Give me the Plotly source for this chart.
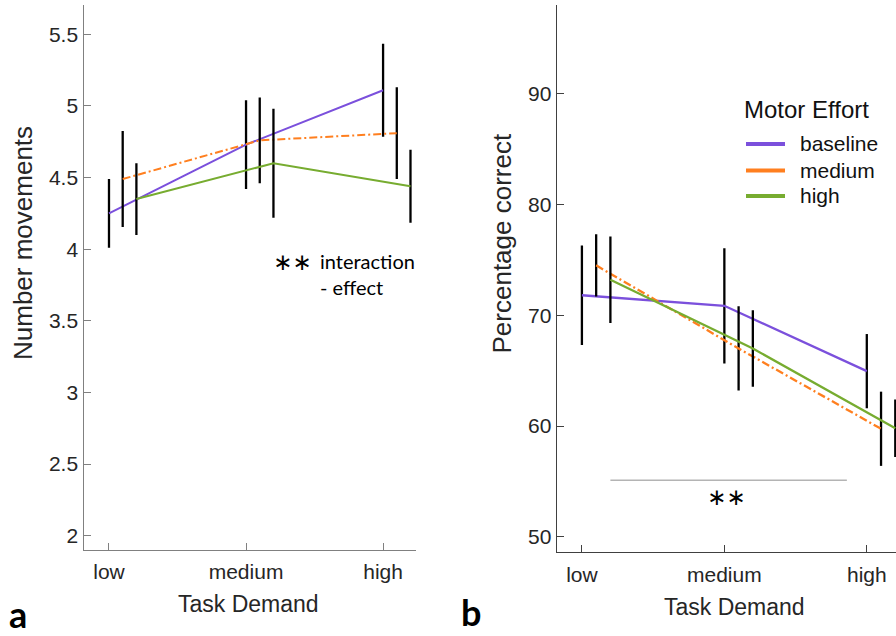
import plotly.graph_objects as go

# ---------------- data ----------------
task_levels = ["low", "medium", "high"]
effort_groups = ["baseline", "medium", "high"]

# panel a: number of movements (mean, error)
mov_baseline = [4.25, 4.73, 5.11]
mov_baseline_err = [0.24, 0.31, 0.325]
mov_medium = [4.49, 4.76, 4.81]
mov_medium_err = [0.335, 0.30, 0.32]
mov_high = [4.35, 4.60, 4.44]
mov_high_err = [0.25, 0.38, 0.255]

# panel b: percentage correct (mean, error)
pc_baseline = [71.8, 70.85, 64.95]
pc_baseline_err = [4.5, 5.2, 3.35]
pc_medium = [74.5, 67.0, 59.75]
pc_medium_err = [2.8, 3.8, 3.35]
pc_high = [73.2, 67.0, 59.8]
pc_high_err = [3.9, 3.45, 2.6]

# significance bar in panel b
sig_x = [1.2, 2.86]
sig_y = [55.1, 55.1]

y_ticks_a = [2, 2.5, 3, 3.5, 4, 4.5, 5, 5.5]
y_ticks_b = [50, 60, 70, 80, 90]

# ---------------- styles ----------------
colors = {"baseline": "#7B50DC", "medium": "#FF7F1F", "high": "#77AC30"}
dashes = {"baseline": "solid", "medium": "8px,3px,2px,3px", "high": "solid"}
offsets = {"baseline": 0.0, "medium": 0.1, "high": 0.2}
base_x = [1, 2, 3]
SANS = "Liberation Sans, Arial, sans-serif"
TICK_FONT = dict(family=SANS, size=21, color="#262626")
TXT = "#262626"

fig = go.Figure()

panel_a = {"baseline": (mov_baseline, mov_baseline_err),
           "medium": (mov_medium, mov_medium_err),
           "high": (mov_high, mov_high_err)}
panel_b = {"baseline": (pc_baseline, pc_baseline_err),
           "medium": (pc_medium, pc_medium_err),
           "high": (pc_high, pc_high_err)}

for axes, data in (("a", panel_a), ("b", panel_b)):
    xa, ya = ("x", "y") if axes == "a" else ("x2", "y2")
    lw = 2 if axes == "a" else 2.3
    for g in effort_groups:
        vals, errs = data[g]
        xs = [b + offsets[g] for b in base_x]
        # error bars
        fig.add_trace(go.Scatter(
            x=xs, y=vals, mode="markers", marker=dict(size=1, color="rgba(0,0,0,0)"),
            error_y=dict(type="data", array=errs, visible=True, color="black",
                         thickness=2.3, width=0),
            xaxis=xa, yaxis=ya, showlegend=False, hoverinfo="skip"))
        # lines
        fig.add_trace(go.Scatter(
            x=xs, y=vals, mode="lines",
            line=dict(color=colors[g], width=lw, dash=dashes[g]),
            xaxis=xa, yaxis=ya, showlegend=False, name=g))

# significance line
fig.add_trace(go.Scatter(x=sig_x, y=sig_y, mode="lines",
                         line=dict(color="#b4b4b4", width=1.5),
                         xaxis="x2", yaxis="y2", showlegend=False, hoverinfo="skip"))

W, H = 896, 636

def px(x):
    return x / W

def py(y):
    return 1 - y / H

common_x = dict(tickmode="array", tickvals=base_x, ticktext=task_levels,
                ticks="inside", ticklen=7, showgrid=False, zeroline=False,
                showline=True, linewidth=1.3, tickfont=TICK_FONT, ticklabelstandoff=3)
common_y = dict(ticks="inside", ticklen=7, showgrid=False, zeroline=False,
                showline=True, linewidth=1.3, tickfont=TICK_FONT)

fig.update_layout(
    width=W, height=H,
    margin=dict(l=0, r=0, t=0, b=0),
    paper_bgcolor="white", plot_bgcolor="white",
    showlegend=False,
    xaxis=dict(domain=[px(83.5), px(415.7)], range=[0.814, 3.238],
               linecolor="#808080", tickcolor="#808080", anchor="y", **common_x),
    yaxis=dict(domain=[py(550), py(5)], range=[1.9, 5.705], tickvals=y_ticks_a,
               ticktext=[f"{v:g}" for v in y_ticks_a],
               linecolor="#808080", tickcolor="#808080", anchor="x", **common_y),
    xaxis2=dict(domain=[px(556.7), 1.0], range=[0.823, 3.205],
                linecolor="#404040", tickcolor="#404040", anchor="y2", **common_x),
    yaxis2=dict(domain=[py(552.3), py(5)], range=[48.6, 98], tickvals=y_ticks_b,
                linecolor="#404040", tickcolor="#404040", anchor="x2", **common_y),
)

ann = []
shapes = []
# axis titles
ann.append(dict(text="Number movements", x=px(23), y=py(243), xref="paper", yref="paper",
                textangle=-90, showarrow=False, xanchor="center", yanchor="middle",
                font=dict(family=SANS, size=26, color=TXT)))
ann.append(dict(text="Percentage correct", x=px(502), y=py(243.5), xref="paper", yref="paper",
                textangle=-90, showarrow=False, xanchor="center", yanchor="middle",
                font=dict(family=SANS, size=26, color=TXT)))
ann.append(dict(text="Task Demand", x=px(248), y=py(604), xref="paper", yref="paper",
                showarrow=False, xanchor="center", yanchor="middle",
                font=dict(family=SANS, size=23, color=TXT)))
ann.append(dict(text="Task Demand", x=px(734.7), y=py(606.7), xref="paper", yref="paper",
                showarrow=False, xanchor="center", yanchor="middle",
                font=dict(family=SANS, size=23, color=TXT)))
# panel a annotation
ann.append(dict(text="∗∗", x=px(292), y=py(262), xref="paper", yref="paper",
                showarrow=False, xanchor="center", yanchor="middle",
                font=dict(family="DejaVu Sans", size=23, color="black")))
ann.append(dict(text="interaction", x=px(318), y=py(261), xref="paper", yref="paper",
                showarrow=False, xanchor="left", yanchor="middle",
                font=dict(family="Lato, Open Sans, sans-serif", size=20, color="black")))
ann.append(dict(text="- effect", x=px(318), y=py(287), xref="paper", yref="paper",
                showarrow=False, xanchor="left", yanchor="middle",
                font=dict(family="Lato, Open Sans, sans-serif", size=20, color="black")))
# panel b significance stars
ann.append(dict(text="∗∗", x=px(726.7), y=py(497), xref="paper", yref="paper",
                showarrow=False, xanchor="center", yanchor="middle",
                font=dict(family="DejaVu Sans", size=23, color="black")))
# panel labels
ann.append(dict(text="<b>a</b>", x=px(7), y=py(614), xref="paper", yref="paper",
                showarrow=False, xanchor="left", yanchor="middle",
                font=dict(family="Lato, Open Sans, sans-serif", size=36, color="black")))
ann.append(dict(text="<b>b</b>", x=px(459), y=py(612), xref="paper", yref="paper",
                showarrow=False, xanchor="left", yanchor="middle",
                font=dict(family="Lato, Open Sans, sans-serif", size=36, color="black")))

# legend (panel b)
ann.append(dict(text="Motor Effort", x=px(742), y=py(110), xref="paper", yref="paper",
                showarrow=False, xanchor="left", yanchor="middle",
                font=dict(family=SANS, size=24, color="#111111")))
legend_rows = [144, 170.5, 196]
for g, yy in zip(effort_groups, legend_rows):
    shapes.append(dict(type="line", xref="paper", yref="paper",
                       x0=px(746), x1=px(785), y0=py(yy), y1=py(yy),
                       line=dict(color=colors[g], width=4)))
    ann.append(dict(text=g, x=px(798), y=py(yy), xref="paper", yref="paper",
                    showarrow=False, xanchor="left", yanchor="middle",
                    font=dict(family=SANS, size=21, color="#111111")))

fig.update_layout(annotations=ann, shapes=shapes)

fig.write_html("out.html", config={"displayModeBar": False},
               post_script="document.body.style.margin='0px';")
